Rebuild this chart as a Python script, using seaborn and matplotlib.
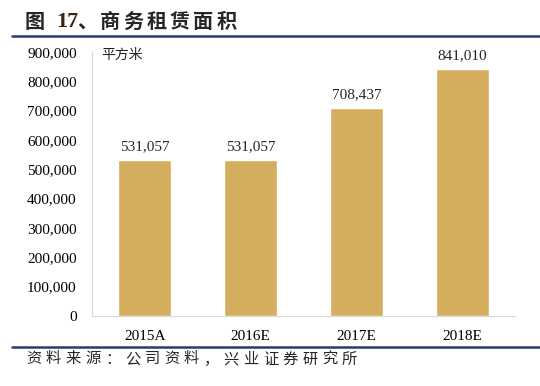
import matplotlib
matplotlib.use("Agg")
import matplotlib.pyplot as plt
import seaborn as sns
import pandas as pd
from matplotlib.lines import Line2D

categories = ["2015A", "2016E", "2017E", "2018E"]
areas = [531057, 531057, 708437, 841010]
yticks = list(range(0, 900001, 100000))
title_words = "商务租赁面积"
source = "资料来源：公司资料，兴业证券研究所"

sns.set_theme(style="white")
plt.rcParams['font.family'] = ['Liberation Serif', 'Noto Sans CJK SC', 'DejaVu Sans']
cjk = ['Noto Sans CJK SC', 'DejaVu Sans']

df = pd.DataFrame({"year": categories, "area": areas})

fig = plt.figure(figsize=(5.4, 3.86), dpi=100)
ax = fig.add_axes([92 / 540, 1 - 316 / 386, (515 - 92) / 540, (316 - 52) / 386])

sns.barplot(data=df, x="year", y="area", color="#D5AD5E", saturation=1,
            width=0.5, ax=ax)
ax.set_xlim(-0.5, 3.5)
ax.set_ylim(0, 900000)
ax.set_yticks(yticks)
ax.set_yticklabels([f"{v:,}" for v in yticks])
ax.set_xlabel("")
ax.set_ylabel("")
ax.tick_params(axis="both", labelsize=11, length=0, colors="#000000")
ax.tick_params(axis="y", pad=11)
ax.tick_params(axis="x", pad=10)
for s in ["top", "right"]:
    ax.spines[s].set_visible(False)
for s in ["left", "bottom"]:
    ax.spines[s].set_color("#D9D9D9")
    ax.spines[s].set_linewidth(0.8)

for i, v in enumerate(areas):
    ax.annotate(f"{v:,}", (i, v), xytext=(0, 5), textcoords="offset points",
                ha="center", va="bottom", fontsize=11)

ax.text(0.022, 0.988, "平方米", transform=ax.transAxes, ha="left", va="center",
        fontsize=10, family=cjk, color="#222222", fontweight="light")

# title, pieced together to follow the wide spacing of the original
ty = 1 - 22 / 386
fig.text(25 / 540, ty, "图", fontsize=14.5, fontweight="bold", family=cjk,
         va="center", ha="left")
fig.text(56 / 540, ty, "17", fontsize=16, fontweight="bold",
         family="Liberation Serif", color="#3A2412", va="center", ha="left")
fig.text(77 / 540, ty, "、", fontsize=14.5, fontweight="bold", family=cjk,
         va="center", ha="left")
for k, ch in enumerate(title_words):
    fig.text((100 + 23.3 * k) / 540, ty, ch, fontsize=14.5, fontweight="bold",
             family=cjk, va="center", ha="left")

fig.add_artist(Line2D([12 / 540, 1], [1 - 36 / 386] * 2, color="#2E3A6E",
                      lw=1.8, transform=fig.transFigure))
fig.add_artist(Line2D([12 / 540, 1], [1 - 346.5 / 386] * 2, color="#2E3A6E",
                      lw=1.8, transform=fig.transFigure))

# source line, characters spaced out as in the original
for k, ch in enumerate(source):
    fig.text((26 + 19.75 * k) / 540, 1 - 359 / 386, ch, fontsize=11,
             family=cjk, va="center", ha="left", fontweight="light")

fig.savefig("out.png", dpi=100)
